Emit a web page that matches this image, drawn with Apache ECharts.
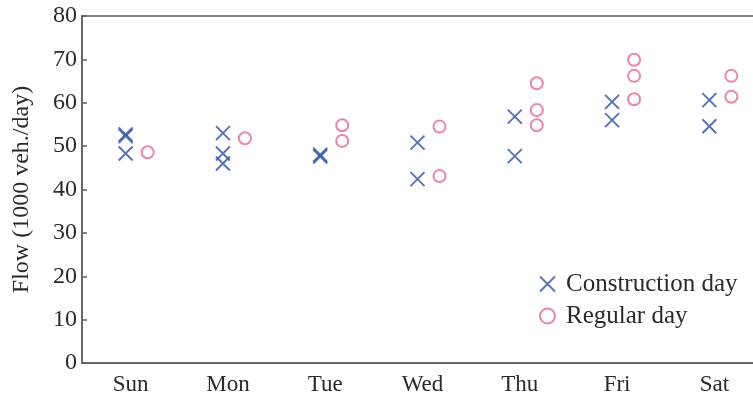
<!DOCTYPE html>
<html>
<head>
<meta charset="utf-8">
<script src="https://cdn.jsdelivr.net/npm/echarts@6/dist/echarts.min.js"></script>
<style>
  html, body { margin: 0; padding: 0; background: #fff; }
  #chart { width: 753px; height: 397px; }
</style>
</head>
<body>
<div id="chart"></div>
<script>
// Days of the week on the horizontal axis
var days = ['Sun', 'Mon', 'Tue', 'Wed', 'Thu', 'Fri', 'Sat'];

// Daily traffic flow (1000 veh./day), several observations per weekday
var constructionFlow = [
  [52.3, 52.7, 48.3],
  [53.0, 48.3, 46.0],
  [47.6, 48.0],
  [50.8, 42.4],
  [56.8, 47.7],
  [60.2, 56.0],
  [60.6, 54.6]
];
var regularFlow = [
  [48.6],
  [51.8],
  [54.8, 51.2],
  [54.5, 43.1],
  [64.5, 58.3, 54.8],
  [69.9, 66.2, 60.8],
  [66.2, 61.4]
];

var yTicks = { min: 0, max: 80, interval: 10 };

function toPoints(groups) {
  var pts = [];
  groups.forEach(function (vals, i) {
    vals.forEach(function (v) { pts.push([days[i], v]); });
  });
  return pts;
}

var blue = '#2f52a6';
var pink = '#e6679b';
var axisColor = '#5a5f66';
var textColor = '#2a2a2a';
var serif = '"Liberation Serif", "DejaVu Serif", serif';

var chart = echarts.init(document.getElementById('chart'), null, { renderer: 'canvas' });
chart.setOption({
  animation: false,
  grid: {
    left: 82, top: 16, width: 681, height: 347,
    containLabel: false,
    outerBoundsMode: 'none',
    show: true, borderColor: axisColor, borderWidth: 1.5, backgroundColor: 'transparent'
  },
  legend: {
    orient: 'vertical',
    left: 534, top: 266,
    itemWidth: 15, itemHeight: 15,
    itemGap: 6,
    textStyle: { fontFamily: serif, fontSize: 25, color: textColor, lineHeight: 26, padding: [0, 0, 0, 6] },
    data: ['Construction day', 'Regular day']
  },
  xAxis: {
    type: 'category',
    data: days,
    boundaryGap: true,
    axisLine: { lineStyle: { color: axisColor, width: 1.5 } },
    axisTick: { inside: true, length: 5, lineStyle: { color: axisColor, width: 1.5 } },
    axisLabel: { fontFamily: serif, fontSize: 23, color: textColor, margin: 10 },
    splitLine: { show: false }
  },
  yAxis: {
    type: 'value',
    min: yTicks.min, max: yTicks.max, interval: yTicks.interval,
    name: 'Flow (1000 veh./day)',
    nameLocation: 'middle',
    nameGap: 48,
    nameTextStyle: { fontFamily: serif, fontSize: 24, color: textColor },
    axisLine: { show: true, lineStyle: { color: axisColor, width: 1.5 } },
    axisTick: { show: true, inside: true, length: 5, lineStyle: { color: axisColor, width: 1.5 } },
    axisLabel: { fontFamily: serif, fontSize: 24, color: textColor, margin: 5 },
    splitLine: { show: false }
  },
  series: [
    {
      name: 'Construction day',
      type: 'scatter',
      symbol: 'path://M0,0L10,10M10,0L0,10',
      symbolSize: 14,
      symbolOffset: [-5, 0],
      itemStyle: { color: 'rgba(0,0,0,0)', borderColor: blue, borderWidth: 2 },
      data: toPoints(constructionFlow)
    },
    {
      name: 'Regular day',
      type: 'scatter',
      symbol: 'circle',
      symbolSize: 12,
      symbolOffset: [17, 0],
      itemStyle: { color: 'rgba(0,0,0,0)', borderColor: pink, borderWidth: 2 },
      data: toPoints(regularFlow)
    }
  ]
});
</script>
</body>
</html>
